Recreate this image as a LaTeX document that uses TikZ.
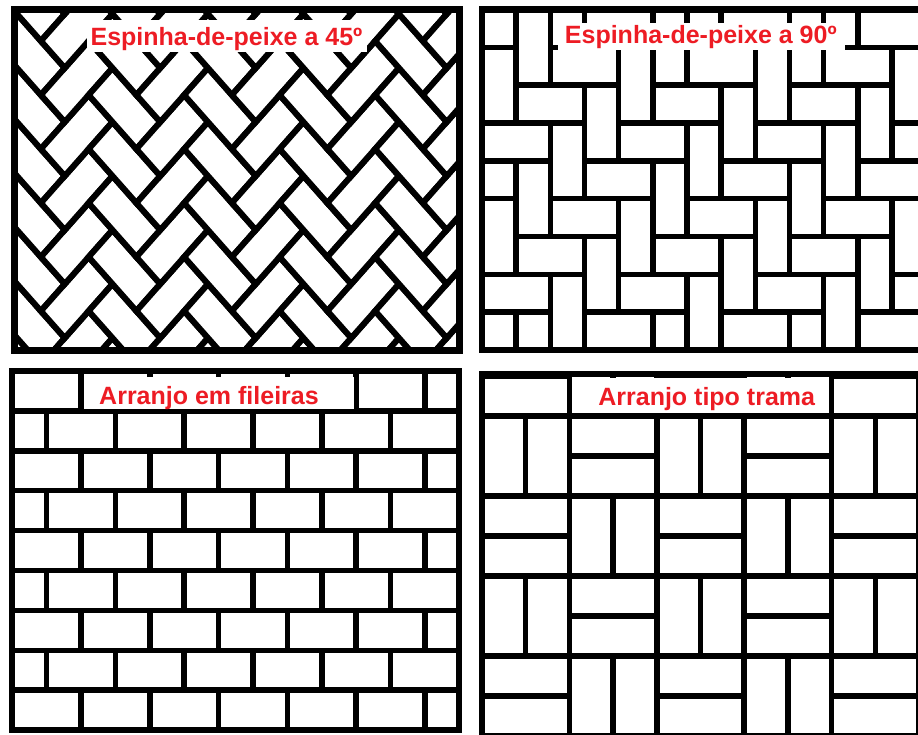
\documentclass[tikz,border=0pt]{standalone}
\usepackage{fontspec}
\setmainfont{Liberation Sans}
\definecolor{lblred}{RGB}{237,28,36}
\begin{document}
\begin{tikzpicture}[x=1pt,y=-1pt,
  brick/.style={draw=black,fill=white,line width=5.5pt},
  brickdiag/.style={draw=black,fill=white,line width=6pt},
  frame/.style={draw=black,line width=6.5pt},
  framethick/.style={draw=black,line width=7pt},
  lblbox/.style={fill=white},
  lbltext/.style={inner sep=0pt,text=lblred,font=\bfseries\fontsize{25}{25}\selectfont}]
\useasboundingbox[fill=white] (0,0) rectangle (918,734);

% ---------- panel 1: herringbone 45 ----------
\begin{scope}
\clip (14.5,9.5) rectangle (459,350);
\begin{scope}[shift={(64.75,14)}, x={(23.875pt,27pt)}, y={(23.875pt,-27pt)}]
\foreach \c in {-11,...,10}{
  \foreach \r in {-4,...,17}{
    \pgfmathtruncatemacro{\m}{mod(\c+\r+400,4)}
    \ifnum\m=1 \draw[brickdiag] (\c,\r) -- ++(1,0) -- ++(0,2) -- ++(-1,0) -- cycle; \fi
    \ifnum\m=3 \draw[brickdiag] (\c,\r) -- ++(2,0) -- ++(0,1) -- ++(-2,0) -- cycle; \fi
  }}
\end{scope}
\end{scope}
\draw[framethick] (14.5,9.5) rectangle (459,350);

% ---------- panel 2: herringbone 90 ----------
\begin{scope}
\clip (482,9.5) rectangle (930,350);
\begin{scope}[shift={(482,9.5)}, x=34.17pt, y=-37.83pt]
\foreach \c in {-2,...,13}{
  \foreach \r in {-2,...,9}{
    \pgfmathtruncatemacro{\m}{mod(\c+\r+400,4)}
    \ifnum\m=1 \draw[brick] (\c,\r) rectangle ++(1,2); \fi
    \ifnum\m=3 \draw[brick] (\c,\r) rectangle ++(2,1); \fi
  }}
\end{scope}
\end{scope}
\draw[frame] (935,9.5) -- (482,9.5) -- (482,350) -- (935,350);

% ---------- panel 3: running bond ----------
\begin{scope}
\clip (12,371) rectangle (459,730);
\foreach \k in {0,...,8}{
  \pgfmathsetmacro{\yt}{371+39.9*\k}
  \pgfmathsetmacro{\off}{isodd(\k) ? 46.6 : 81}
  \foreach \m in {-2,...,7}{
    \draw[brick] ({\off+68.8*\m},\yt) rectangle ++(68.8,39.9);
  }}
\end{scope}
\draw[frame] (12,371) rectangle (459,730);

% ---------- panel 4: basket weave ----------
\begin{scope}
\clip (482,374) rectangle (935,745);
\foreach \R in {-1,...,4}{
  \foreach \C in {0,...,5}{
    \pgfmathsetmacro{\bx}{482+87.4*\C}
    \pgfmathsetmacro{\by}{416+80*\R}
    \pgfmathtruncatemacro{\o}{mod(\R+\C+10,2)}
    \ifnum\o=1
      \draw[brick] (\bx,\by) rectangle ++(87.4,40);
      \draw[brick] (\bx,\by+40) rectangle ++(87.4,40);
    \else
      \draw[brick] (\bx,\by) rectangle ++(43.7,80);
      \draw[brick] (\bx+43.7,\by) rectangle ++(43.7,80);
    \fi
  }}
\end{scope}
\draw[frame] (935,374) -- (482,374) -- (482,745);

% ---------- labels ----------
\fill[lblbox] (86.7,20) rectangle (366.7,52);
\node[lbltext, anchor=base] (t1) at (226.5,45.3) {Espinha-de-peixe a 45º};
\fill[lblbox] (558.3,23.3) rectangle (845,50);
\node[lbltext, anchor=base] (t2) at (700.8,43.5) {Espinha-de-peixe a 90º};
\fill[lblbox] (84,377) rectangle (354,409);
\node[lbltext, anchor=base] (t3) at (209,404.5) {Arranjo em fileiras};
\fill[lblbox] (572,378) rectangle (828,413);
\node[lbltext, anchor=base] (t4) at (706.7,405) {Arranjo tipo trama};
\end{tikzpicture}
\end{document}
